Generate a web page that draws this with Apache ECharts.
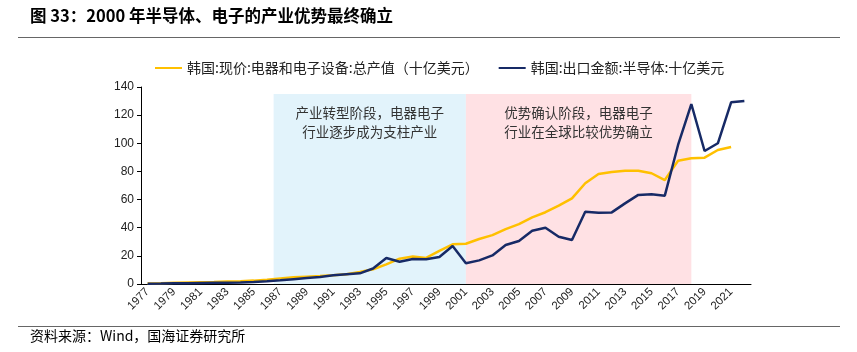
<!DOCTYPE html>
<html>
<head>
<meta charset="utf-8">
<script src="https://cdn.jsdelivr.net/npm/echarts@6/dist/echarts.min.js"></script>
<style>
  html, body { margin: 0; padding: 0; background: #fff; }
  #chart { width: 857px; height: 352px; }
</style>
</head>
<body>
<div id="chart"></div>
<script>
  // 年份 1977-2022
  const years = []
  for (let y = 1977; y <= 2022; y++) years.push(String(y))

  // 韩国:现价:电器和电子设备:总产值（十亿美元），1977-2021
  const outputValues = [
    0.3, 0.5, 0.8, 1.0, 1.2, 1.4, 1.7, 2.0, 2.4, 3.0,
    4.0, 4.8, 5.2, 5.6, 6.2, 7.0, 8.5, 10.5, 14.0, 18.0,
    19.5, 18.5, 23.5, 28.2, 28.6, 32.0, 34.7, 39.0, 42.6, 47.4,
    51.0, 55.7, 60.9, 71.6, 78.2, 79.6, 80.5, 80.5, 78.7, 73.9,
    87.6, 89.3, 89.8, 95.2, 97.4
  ]

  // 韩国:出口金额:半导体（十亿美元），1977-2022
  const exportValues = [
    0.2, 0.3, 0.5, 0.6, 0.7, 0.8, 0.9, 1.1, 1.4, 1.9,
    2.6, 3.4, 4.2, 5.0, 6.2, 7.0, 7.6, 11.0, 18.5, 15.8,
    17.8, 17.6, 19.2, 27.0, 14.7, 16.8, 20.3, 27.7, 30.6, 37.9,
    40.0, 33.6, 31.3, 51.4, 50.7, 50.9, 57.3, 63.3, 63.7, 62.8,
    98.8, 127.9, 94.5, 100.0, 129.1, 130.0
  ]

  // 阶段分界（年份），背景色块
  const stageBounds = [1986.5, 2001, 2018]
  const stageTop = 135
  const stageTexts = [
    '产业转型阶段，电器电子\n行业逐步成为支柱产业',
    '优势确认阶段，电器电子\n行业在全球比较优势确立'
  ]
  const stageColors = ['#E2F3FB', '#FFE1E4']

  const yTicks = [0, 20, 40, 60, 80, 100, 120, 140]

  const seriesNames = [
    '韩国:现价:电器和电子设备:总产值（十亿美元）',
    '韩国:出口金额:半导体:十亿美元'
  ]

  const cjk = '"Noto Sans CJK SC", sans-serif'
  const latin = '"Liberation Sans", Arial, sans-serif'

  const mChart = echarts.init(document.getElementById('chart'))

  const options = {
    animation: false,
    textStyle: { fontFamily: cjk },
    graphic: [
      {
        type: 'text', left: 30, top: 7,
        style: {
          text: '图 33：2000 年半导体、电子的产业优势最终确立',
          font: 'bold 16.5px ' + cjk, fill: '#000'
        }
      },
      { type: 'rect', left: 18, top: 37, shape: { width: 822, height: 1 }, style: { fill: '#666' } },
      { type: 'rect', left: 18, top: 326, shape: { width: 822, height: 1 }, style: { fill: '#666' } },
      {
        type: 'text', left: 30, top: 329,
        style: {
          text: '资料来源：Wind，国海证券研究所',
          font: '14px ' + cjk, fill: '#000'
        }
      }
    ],
    legend: {
      top: 56,
      left: 150,
      itemWidth: 27,
      itemHeight: 2,
      itemGap: 20,
      icon: 'rect',
      textStyle: { fontSize: 14, color: '#222', fontFamily: cjk },
      data: seriesNames
    },
    grid: {
      left: 141,
      right: 106,
      top: 87,
      bottom: 68,
      containLabel: false
    },
    xAxis: [
      {
        type: 'category',
        data: years,
        boundaryGap: true,
        axisLine: { lineStyle: { color: '#000', width: 1 } },
        axisTick: { interval: 1, length: 4, lineStyle: { color: '#000' } },
        axisLabel: {
          interval: 1,
          rotate: 45,
          fontSize: 11.5,
          color: '#222',
          fontFamily: latin,
          margin: 6
        }
      },
      {
        type: 'value',
        min: 1976.5,
        max: 2022.5,
        show: false
      }
    ],
    yAxis: {
      type: 'value',
      min: yTicks[0],
      max: yTicks[yTicks.length - 1],
      interval: 20,
      splitLine: { show: false },
      axisLine: { show: true, lineStyle: { color: '#000', width: 1 } },
      axisTick: { show: true, length: 4, lineStyle: { color: '#000' } },
      axisLabel: { fontSize: 12, color: '#222', fontFamily: latin, margin: 7 }
    },
    series: [
      {
        // 背景阶段色块
        type: 'line',
        xAxisIndex: 1,
        data: [],
        silent: true,
        markArea: {
          silent: true,
          data: stageTexts.map((t, i) => [
            {
              xAxis: stageBounds[i],
              yAxis: 0,
              itemStyle: { color: stageColors[i] },
              label: {
                show: true,
                position: 'insideTop',
                distance: 9,
                formatter: t,
                fontSize: 13.5,
                lineHeight: 19,
                color: '#333',
                fontFamily: cjk,
                align: 'center'
              }
            },
            { xAxis: stageBounds[i + 1], yAxis: stageTop }
          ])
        }
      },
      {
        name: seriesNames[0],
        type: 'line',
        data: outputValues,
        symbol: 'none',
        lineStyle: { color: '#FFC000', width: 2.5 },
        itemStyle: { color: '#FFC000' }
      },
      {
        name: seriesNames[1],
        type: 'line',
        data: exportValues,
        symbol: 'none',
        lineStyle: { color: '#172A66', width: 2.5 },
        itemStyle: { color: '#172A66' }
      }
    ]
  }

  mChart.setOption(options)
</script>
</body>
</html>
